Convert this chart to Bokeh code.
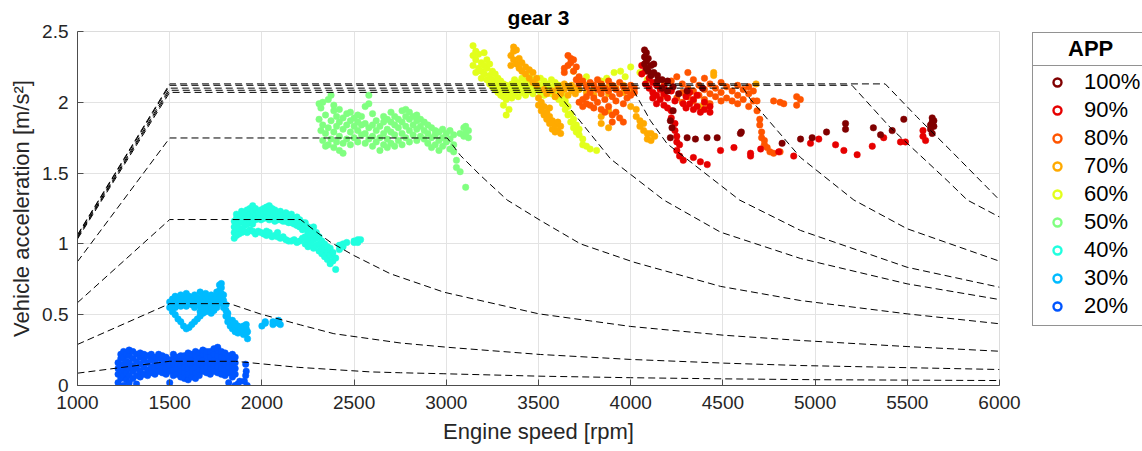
from bokeh.plotting import figure
from bokeh.layouts import row
from bokeh.models import (Range1d, FixedTicker, CustomJSTickFormatter, Legend,
                          LegendItem, ColumnDataSource)
from bokeh.embed import file_html
from bokeh.resources import INLINE

# ---------------- data ----------------
X_TICKS = [1000, 1500, 2000, 2500, 3000, 3500, 4000, 4500, 5000, 5500, 6000]
Y_TICKS = [0, 0.5, 1, 1.5, 2, 2.5]
LEGEND_TITLE = "APP"
APP_LABELS = ["20%", "30%", "40%", "50%", "60%", "70%", "80%", "90%", "100%"]
APP_COLORS = ["#0055FF", "#00BBFF", "#20FFDF", "#80FF80", "#E2FF1C",
              "#FFAA00", "#FF5500", "#E60000", "#800000"]

# measured samples: engine speed [rpm] -> vehicle accelerations [m/s^2]
APP20 = {
    1220: [0.02, 0.08, 0.12, 0.16], 1235: [0.05, 0.10, 0.14, 0.19, 0.22],
    1250: [0.00, 0.07, 0.11, 0.15, 0.20, 0.24], 1265: [0.04, 0.09, 0.13, 0.17, 0.22],
    1280: [0.02, 0.07, 0.12, 0.16, 0.21, 0.25], 1300: [0.05, 0.10, 0.14, 0.19, 0.24],
    1320: [0.01, 0.07, 0.12, 0.17, 0.22], 1340: [0.06, 0.10, 0.15, 0.20, 0.23],
    1360: [0.08, 0.13, 0.18, 0.22], 1380: [0.07, 0.11, 0.16, 0.21],
    1400: [0.09, 0.13, 0.18, 0.22], 1420: [0.08, 0.12, 0.16, 0.20],
    1440: [0.10, 0.14, 0.19, 0.22], 1460: [0.09, 0.13, 0.17, 0.21],
    1480: [0.08, 0.12, 0.16, 0.20], 1500: [0.02, 0.10, 0.14, 0.18],
    1520: [0.07, 0.11, 0.15, 0.19, 0.22], 1540: [0.08, 0.12, 0.16, 0.20],
    1560: [0.06, 0.10, 0.14, 0.18, 0.21], 1580: [0.05, 0.09, 0.13, 0.17, 0.21],
    1600: [0.04, 0.08, 0.12, 0.16, 0.20, 0.23], 1620: [0.06, 0.10, 0.14, 0.18, 0.22],
    1640: [0.05, 0.09, 0.13, 0.17, 0.21, 0.24], 1660: [0.07, 0.11, 0.15, 0.19, 0.23],
    1680: [0.10, 0.14, 0.18, 0.22, 0.25], 1700: [0.09, 0.13, 0.17, 0.21, 0.24],
    1720: [0.08, 0.12, 0.16, 0.20, 0.24], 1740: [0.10, 0.14, 0.18, 0.22, 0.26],
    1760: [0.09, 0.13, 0.17, 0.21, 0.25, 0.27], 1780: [0.08, 0.12, 0.16, 0.20, 0.24],
    1800: [0.07, 0.11, 0.15, 0.19, 0.23], 1820: [0.02, 0.09, 0.13, 0.17, 0.21],
    1840: [0.06, 0.10, 0.14, 0.18, 0.22], 1855: [0.00, 0.08, 0.12, 0.16, 0.20],
    1870: [0.01], 1880: [0.03], 1905: [0.03], 1912: [0.07, 0.15], 1915: [0.10],
    1920: [0.00],
}
APP30 = {
    1500: [0.55, 0.59], 1515: [0.52, 0.57, 0.61], 1530: [0.50, 0.55, 0.60, 0.63],
    1545: [0.47, 0.58, 0.62], 1560: [0.45, 0.56, 0.60, 0.64], 1575: [0.42, 0.58, 0.62],
    1590: [0.40, 0.56, 0.61, 0.65], 1605: [0.41, 0.59, 0.63], 1620: [0.43, 0.57, 0.61],
    1635: [0.45, 0.55, 0.60, 0.64], 1650: [0.47, 0.58, 0.62],
    1665: [0.49, 0.52, 0.56, 0.60, 0.66], 1680: [0.51, 0.54, 0.59, 0.63],
    1695: [0.52, 0.56, 0.61, 0.65], 1710: [0.53, 0.58, 0.62],
    1725: [0.51, 0.55, 0.60, 0.64], 1740: [0.53, 0.57, 0.61],
    1755: [0.55, 0.59, 0.63, 0.66], 1770: [0.58, 0.62, 0.67, 0.71],
    1780: [0.60, 0.65, 0.69, 0.72], 1792: [0.55, 0.60, 0.64],
    1805: [0.49, 0.53, 0.57], 1815: [0.45, 0.48, 0.51], 1828: [0.42, 0.45],
    1840: [0.40, 0.43, 0.46], 1855: [0.38, 0.41, 0.44], 1870: [0.37, 0.40, 0.42],
    1885: [0.38, 0.41], 1900: [0.36, 0.39, 0.42], 1915: [0.37, 0.40, 0.43],
    1922: [0.33, 0.38], 2000: [0.42], 2018: [0.44, 0.45], 2060: [0.43, 0.45],
    2090: [0.44, 0.46], 2100: [0.43],
}
APP40 = {
    1850: [1.04, 1.08, 1.12, 1.16], 1862: [1.06, 1.10, 1.14, 1.18, 1.21],
    1875: [1.07, 1.11, 1.15, 1.19], 1890: [1.08, 1.10, 1.16, 1.20, 1.23],
    1905: [1.09, 1.13, 1.18, 1.22], 1920: [1.08, 1.14, 1.19, 1.24],
    1935: [1.10, 1.16, 1.21, 1.25], 1950: [1.09, 1.14, 1.19, 1.23, 1.27],
    1965: [1.07, 1.17, 1.21, 1.25], 1980: [1.09, 1.18, 1.22],
    1995: [1.08, 1.17, 1.21, 1.24], 2010: [1.07, 1.18, 1.22, 1.25],
    2025: [1.06, 1.09, 1.19, 1.23, 1.26], 2040: [1.08, 1.17, 1.21, 1.27],
    2055: [1.05, 1.18, 1.22, 1.25], 2070: [1.06, 1.16, 1.20, 1.24],
    2085: [1.05, 1.08, 1.17, 1.21], 2100: [1.04, 1.17, 1.21, 1.23],
    2115: [1.05, 1.16, 1.20], 2130: [1.03, 1.16, 1.19, 1.22],
    2145: [1.02, 1.15, 1.18], 2160: [1.02, 1.15, 1.19, 1.21],
    2175: [1.03, 1.14, 1.17], 2190: [1.01, 1.13, 1.16, 1.19],
    2205: [1.02, 1.12, 1.17], 2220: [1.04, 1.10, 1.15],
    2235: [1.00, 1.05, 1.11, 1.15], 2250: [0.98, 1.03, 1.08, 1.12],
    2265: [1.00, 1.06, 1.10], 2280: [0.97, 1.03, 1.07, 1.12],
    2295: [0.99, 1.04, 1.08], 2310: [0.95, 1.00, 1.05], 2325: [0.93, 0.97, 1.02],
    2340: [0.91, 0.96, 1.00], 2355: [0.89, 0.94, 0.98], 2370: [0.86, 0.92, 0.97],
    2385: [0.88, 0.94], 2400: [0.82, 0.90], 2420: [0.96, 0.99], 2440: [0.98, 1.00],
    2460: [1.01], 2500: [1.02, 1.01], 2520: [1.03, 1.01], 2535: [1.03],
}
APP50 = {
    2310: [1.88, 1.99], 2320: [1.80, 1.96], 2330: [1.73, 1.84, 2.00],
    2345: [1.69, 1.78, 1.91], 2360: [1.70, 1.82, 2.02], 2375: [1.74, 1.87, 2.05],
    2390: [1.68, 1.79, 1.94, 1.98], 2405: [1.72, 1.83, 1.90],
    2420: [1.66, 1.76, 1.86, 1.95], 2440: [1.64, 1.71, 1.81, 1.89],
    2460: [1.74, 1.84, 1.92], 2480: [1.70, 1.79, 1.87, 1.93],
    2500: [1.75, 1.83, 1.89], 2520: [1.72, 1.80, 1.86, 1.91],
    2540: [1.77, 1.84, 1.90], 2560: [1.71, 1.78, 1.85, 1.97],
    2580: [1.74, 1.82, 1.99, 2.05], 2600: [1.69, 1.76, 1.84, 1.92],
    2620: [1.72, 1.80, 1.87], 2640: [1.66, 1.75, 1.83],
    2660: [1.70, 1.78, 1.86, 1.90], 2680: [1.68, 1.74, 1.81, 1.88],
    2700: [1.71, 1.79, 1.86, 1.93], 2720: [1.69, 1.77, 1.84, 1.90],
    2740: [1.73, 1.82, 1.88], 2760: [1.70, 1.78, 1.86, 1.94],
    2780: [1.75, 1.83, 1.90, 1.95], 2800: [1.72, 1.80, 1.88, 1.93],
    2820: [1.77, 1.84, 1.90], 2840: [1.73, 1.81, 1.87, 1.91],
    2860: [1.76, 1.83, 1.88], 2880: [1.74, 1.80, 1.86], 2900: [1.71, 1.78, 1.84],
    2920: [1.68, 1.75, 1.82], 2940: [1.70, 1.77, 1.80], 2960: [1.66, 1.73, 1.79],
    2980: [1.69, 1.75, 1.81], 3000: [1.72, 1.78], 3020: [1.67, 1.74, 1.80],
    3040: [1.65, 1.70, 1.77], 3055: [1.59, 1.54], 3075: [1.51, 1.78],
    3095: [1.76, 1.82], 3105: [1.40, 1.78, 1.83], 3120: [1.75, 1.80],
}
APP60 = {
    3145: [2.26, 2.33, 2.40], 3160: [2.21, 2.30, 2.36], 3175: [2.24, 2.34],
    3190: [2.17, 2.22, 2.28], 3205: [2.20, 2.26, 2.35], 3220: [2.16, 2.24, 2.30],
    3235: [2.13, 2.19, 2.27], 3250: [2.11, 2.16, 2.22], 3265: [2.09, 2.14, 2.20],
    3280: [2.07, 2.12, 2.17], 3295: [2.05, 2.10, 2.15],
    3310: [1.98, 2.04, 2.09, 2.13], 3325: [1.91, 2.02, 2.07, 2.12],
    3340: [1.95, 2.05, 2.10], 3355: [2.03, 2.08, 2.13], 3370: [2.06, 2.11, 2.16],
    3390: [2.04, 2.09, 2.14], 3410: [2.07, 2.12, 2.17], 3430: [2.05, 2.10, 2.15],
    3450: [2.08, 2.13, 2.19], 3470: [2.06, 2.11, 2.16], 3490: [2.09, 2.14],
    3510: [2.07, 2.12, 2.17], 3530: [2.05, 2.10, 2.15], 3550: [2.08, 2.13],
    3570: [2.06, 2.11, 2.16], 3590: [2.04, 2.09, 2.14], 3610: [2.02, 2.07, 2.12],
    3630: [1.99, 2.05], 3645: [1.95, 2.01], 3660: [1.91, 1.97], 3675: [1.86, 1.92],
    3690: [1.82, 1.88, 2.22], 3705: [1.79, 1.84], 3720: [1.77, 1.81],
    3740: [1.74, 1.70], 3760: [1.69, 2.18], 3780: [1.67], 3815: [1.66],
    3840: [2.15], 3870: [2.17], 3910: [2.21], 3945: [2.22], 3970: [2.18],
    4000: [2.25], 4050: [2.21], 4090: [2.16],
}
APP70 = {
    3350: [2.26, 2.33], 3365: [2.30, 2.36, 2.39], 3380: [2.27, 2.37],
    3395: [2.24, 2.31], 3410: [2.22, 2.28], 3430: [2.20, 2.25], 3450: [2.17, 2.23],
    3470: [2.14, 2.21], 3490: [2.12, 2.17], 3500: [1.98, 2.03], 3515: [1.94, 2.00],
    3530: [1.91, 1.97, 2.09], 3545: [1.88, 1.93, 2.06], 3560: [1.85, 1.90, 1.96],
    3575: [1.81, 1.87, 2.08], 3590: [1.79, 1.84, 2.04], 3605: [1.80, 1.86, 2.10],
    3620: [1.78, 1.83, 2.06], 3640: [2.09, 2.13], 3660: [2.05, 2.11],
    3680: [2.08, 2.12], 3700: [2.06, 2.10], 3720: [2.09], 3760: [2.07, 2.12],
    3800: [2.10, 2.05], 3840: [2.08, 2.12, 1.85, 1.90], 3880: [2.06, 2.11, 1.82, 1.94],
    3920: [2.10], 3960: [2.07, 2.12], 4000: [2.09, 1.97], 4030: [1.95, 1.90],
    4050: [1.87, 1.83], 4070: [1.80, 1.85], 4090: [1.78, 1.74], 4110: [1.73, 1.78],
    4130: [1.76], 4380: [1.97], 4420: [1.99], 4450: [2.21, 2.19], 4680: [2.13],
}
APP80 = {
    3640: [2.21, 2.24], 3660: [2.26, 2.33], 3675: [2.28, 2.31], 3690: [2.30, 2.22],
    3705: [2.25, 2.16], 3720: [2.13, 2.18, 2.00], 3740: [2.15, 2.02, 1.97],
    3760: [2.11, 2.04, 1.99], 3780: [2.14, 2.07, 1.98], 3800: [2.12, 2.03, 1.96],
    3820: [2.16, 2.09, 2.00], 3840: [2.13, 2.06, 1.95], 3860: [2.10, 2.02, 1.93],
    3880: [2.15, 2.08, 1.97], 3900: [2.12, 2.04, 1.91, 1.86], 3920: [2.09, 2.01, 1.93],
    3940: [2.14, 2.06, 1.89], 3960: [2.11, 1.99, 1.86], 3980: [2.08, 2.03],
    4000: [2.12, 2.05], 4020: [2.10, 2.07], 4180: [2.05, 2.12], 4220: [2.09, 2.15],
    4250: [2.18, 2.03], 4280: [2.13, 2.07, 2.00], 4310: [2.21, 2.10, 2.04],
    4340: [2.16, 2.08, 2.01], 4370: [2.12, 2.05], 4400: [2.17, 2.09, 2.02],
    4430: [2.13, 2.06, 1.99], 4460: [2.10, 2.04], 4490: [2.14, 2.07, 2.01],
    4520: [2.11, 2.03], 4550: [2.08, 2.01], 4580: [2.12, 2.05, 1.99],
    4610: [2.09, 2.02], 4640: [2.06, 2.11, 1.97], 4665: [2.08, 2.01],
    4685: [2.01, 1.94], 4700: [1.84, 1.88], 4710: [1.79, 1.75], 4725: [1.73, 1.70],
    4740: [1.68], 4755: [1.65], 4775: [1.64, 2.01], 4810: [1.65, 2.00],
    4830: [1.99], 4900: [2.04, 1.98], 4920: [2.02],
}
APP90 = {
    4060: [2.20, 2.26], 4080: [2.13, 2.22], 4100: [2.10, 2.17],
    4120: [2.07, 2.14, 2.03], 4140: [2.12, 2.05, 1.99], 4160: [2.09, 2.02],
    4180: [2.06, 1.98, 2.11], 4200: [2.03, 1.96], 4220: [2.08, 1.94, 1.89],
    4240: [2.01, 1.85, 1.80], 4250: [1.76, 1.72, 1.66], 4265: [1.62, 1.70],
    4285: [1.59, 1.99], 4300: [2.04, 1.96], 4320: [2.07, 1.99],
    4340: [1.61, 2.02, 1.95], 4360: [2.05, 1.97], 4378: [1.58, 1.93],
    4400: [2.00, 1.95], 4415: [1.56], 4430: [1.97, 1.93], 4487: [1.66],
    4560: [1.68], 4650: [1.64, 1.62], 4705: [1.67], 4803: [1.65], 4884: [1.62],
    4975: [1.71], 5020: [1.74], 5111: [1.70], 5156: [1.66], 5228: [1.63],
    5310: [1.69], 5372: [1.75], 5463: [1.72], 5490: [1.72], 5585: [1.80, 1.76],
    5599: [1.73],
}
APP100 = {
    4075: [2.37, 2.32, 2.27], 4085: [2.35, 2.29, 2.24], 4095: [2.31, 2.22],
    4110: [2.26, 2.19], 4125: [2.27, 2.21], 4145: [2.19, 2.15], 4170: [2.16, 2.10],
    4200: [2.15, 2.08], 4215: [1.87, 1.75], 4224: [1.82], 4230: [2.11, 1.94],
    4260: [2.06], 4306: [2.08, 1.75], 4351: [1.74], 4390: [2.10], 4414: [1.75],
    4469: [1.75], 4595: [1.78], 4600: [1.79], 4821: [1.71], 4921: [1.74],
    4984: [1.75], 5062: [1.79], 5165: [1.85, 1.81], 5316: [1.82], 5355: [1.77],
    5418: [1.80], 5481: [1.88], 5626: [1.81, 1.84], 5635: [1.89, 1.86, 1.78],
    5644: [1.83, 1.87],
}
APP_SAMPLES = [APP20, APP30, APP40, APP50, APP60, APP70, APP80, APP90, APP100]

# dashed limit curves (one per APP level)
LIM20_RPM = [1000, 1500, 1857, 1902, 2200, 2589, 2752, 2987, 3500, 4000, 4500, 5000, 6000]
LIM20_ACC = [0.087, 0.171, 0.171, 0.165, 0.128, 0.096, 0.090, 0.083, 0.066, 0.055, 0.047, 0.041, 0.035]
LIM30_RPM = [1000, 1500, 1825, 1992, 2209, 2390, 2752, 3005, 3511, 4000, 4505, 4921, 6000]
LIM30_ACC = [0.290, 0.578, 0.578, 0.505, 0.428, 0.366, 0.300, 0.270, 0.219, 0.184, 0.158, 0.141, 0.113]
LIM40_RPM = [1000, 1500, 2209, 2300, 2372, 2499, 2697, 2987, 3502, 4000, 4505, 4921, 5499, 6000]
LIM40_ACC = [0.585, 1.172, 1.172, 1.080, 1.012, 0.918, 0.789, 0.659, 0.506, 0.417, 0.355, 0.318, 0.275, 0.242]
LIM50_RPM = [1000, 1500, 3005, 3077, 3186, 3330, 3511, 3728, 4017, 4487, 4921, 5499, 6000]
LIM50_ACC = [0.875, 1.748, 1.748, 1.624, 1.483, 1.310, 1.165, 1.000, 0.871, 0.700, 0.600, 0.506, 0.436]
LIM60_RPM = [1000, 1500, 3600, 3891, 4179, 4487, 4921, 5499, 6000]
LIM60_ACC = [1.035, 2.070, 2.070, 1.600, 1.310, 1.083, 0.897, 0.718, 0.607]
LIM70_RPM = [1000, 1500, 4015, 4107, 4198, 4590, 4921, 5499, 6000]
LIM70_ACC = [1.043, 2.085, 2.085, 1.870, 1.707, 1.310, 1.095, 0.835, 0.694]
LIM80_RPM = [1000, 1500, 4610, 4650, 4921, 5210, 5499, 6000]
LIM80_ACC = [1.050, 2.100, 2.100, 2.020, 1.610, 1.310, 1.107, 0.878]
LIM90_RPM = [1000, 1500, 5200, 5409, 5716, 5825, 6000]
LIM90_ACC = [1.060, 2.120, 2.120, 1.820, 1.448, 1.310, 1.190]
LIM100_RPM = [1000, 1500, 5380, 5550, 5735, 6000]
LIM100_ACC = [1.065, 2.130, 2.130, 1.900, 1.660, 1.310]
LIMIT_CURVES = [(LIM20_RPM, LIM20_ACC), (LIM30_RPM, LIM30_ACC), (LIM40_RPM, LIM40_ACC),
                (LIM50_RPM, LIM50_ACC), (LIM60_RPM, LIM60_ACC), (LIM70_RPM, LIM70_ACC),
                (LIM80_RPM, LIM80_ACC), (LIM90_RPM, LIM90_ACC), (LIM100_RPM, LIM100_ACC)]

# ---------------- main plot ----------------
FONT = "Liberation Sans"
TXT = "#262626"

p = figure(frame_width=922, frame_height=354,
           x_range=Range1d(1000, 6000), y_range=Range1d(0, 2.5),
           output_backend="svg", toolbar_location=None, title="gear 3",
           min_border_left=77, min_border_right=32, min_border_top=31,
           min_border_bottom=66)
p.background_fill_color = "white"
p.border_fill_color = "white"
p.outline_line_color = "#dcdcdc"

p.title.align = "center"
p.title.text_font = FONT
p.title.text_font_size = "21px"
p.title.text_font_style = "bold"
p.title.text_color = "black"
p.title.standoff = 5

for ax in (p.xaxis[0], p.yaxis[0]):
    ax.major_label_text_font = FONT
    ax.major_label_text_font_size = "19px"
    ax.major_label_text_color = TXT
    ax.axis_label_text_font = FONT
    ax.axis_label_text_font_size = "22px"
    ax.axis_label_text_font_style = "normal"
    ax.axis_label_text_color = TXT
    ax.axis_line_color = "#4d4d4d"
    ax.major_tick_line_color = "#4d4d4d"
    ax.major_tick_in = 6
    ax.major_tick_out = 0
    ax.minor_tick_in = 0
    ax.minor_tick_out = 0

p.xaxis.ticker = FixedTicker(ticks=X_TICKS)
p.yaxis.ticker = FixedTicker(ticks=Y_TICKS)
p.yaxis.formatter = CustomJSTickFormatter(code="return tick.toString();")
p.xaxis.axis_label = "Engine speed [rpm]"
p.yaxis.axis_label = "Vehicle acceleration [m/s²]"
p.xaxis.major_label_standoff = 10
p.xaxis.axis_label_standoff = 7
p.yaxis.major_label_standoff = 9
p.yaxis.axis_label_standoff = 5

p.xgrid.grid_line_color = "#e3e3e3"
p.ygrid.grid_line_color = "#e3e3e3"


def expand(samples):
    xs, ys = [], []
    for rpm, accs in samples.items():
        for a in accs:
            xs.append(rpm)
            ys.append(a)
    return xs, ys


for samples, color in zip(APP_SAMPLES, APP_COLORS):
    xs, ys = expand(samples)
    p.scatter(x=xs, y=ys, marker="circle", size=6.5, fill_color=color,
              line_color=color, line_width=0.5)

for rpms, accs in LIMIT_CURVES:
    p.line(x=rpms, y=accs, line_color="black", line_width=1, line_dash="7 4")

# ---------------- legend (own canvas to the right of the axes) ----------------
# its ranges lie far from the data, so the proxy glyphs below are never drawn
# on this canvas; they only provide the legend symbols
lf = figure(frame_width=111, frame_height=296, x_range=Range1d(0, 1),
            y_range=Range1d(0, 1), output_backend="svg", toolbar_location=None,
            x_axis_type=None, y_axis_type=None, min_border_left=0,
            min_border_right=0, min_border_top=30, min_border_bottom=125)
lf.grid.visible = False
lf.outline_line_color = None
lf.background_fill_color = "white"
lf.border_fill_color = "white"

items = []
for label, color, samples in reversed(list(zip(APP_LABELS, APP_COLORS, APP_SAMPLES))):
    xs, ys = expand(samples)
    src = ColumnDataSource(data=dict(x=xs[:1], y=ys[:1]))
    r = lf.scatter(x="x", y="y", source=src, marker="circle", size=8,
                   fill_color=None, line_color=color, line_width=2.4)
    items.append(LegendItem(label=label, renderers=[r]))

xs0, ys0 = expand(APP_SAMPLES[0])
title_src = ColumnDataSource(data=dict(x=xs0[:1], y=ys0[:1]))
title_proxy = lf.scatter(x="x", y="y", source=title_src, marker="circle", size=1,
                         fill_alpha=0, line_alpha=0)

title_box = Legend(items=[LegendItem(label=LEGEND_TITLE, renderers=[title_proxy])],
                   location="top_left", margin=1, padding=3, spacing=0,
                   glyph_width=32, glyph_height=20, label_standoff=0,
                   label_width=90, label_height=20,
                   label_text_font=FONT, label_text_font_size="22px",
                   label_text_font_style="bold", label_text_color="black",
                   border_line_color=TXT, border_line_width=1,
                   background_fill_color="white", background_fill_alpha=1.0)

legend = Legend(items=items, location="bottom_left", margin=1,
                padding=6, spacing=2, glyph_width=36, glyph_height=20,
                label_standoff=9, label_height=20,
                label_text_font=FONT, label_text_font_size="22px",
                label_text_color="black",
                border_line_color=TXT, border_line_width=1,
                background_fill_color="white", background_fill_alpha=1.0)
lf.add_layout(legend, "center")
lf.add_layout(title_box, "center")

layout = row(p, lf)
open("out.html", "w").write(file_html(layout, INLINE))
